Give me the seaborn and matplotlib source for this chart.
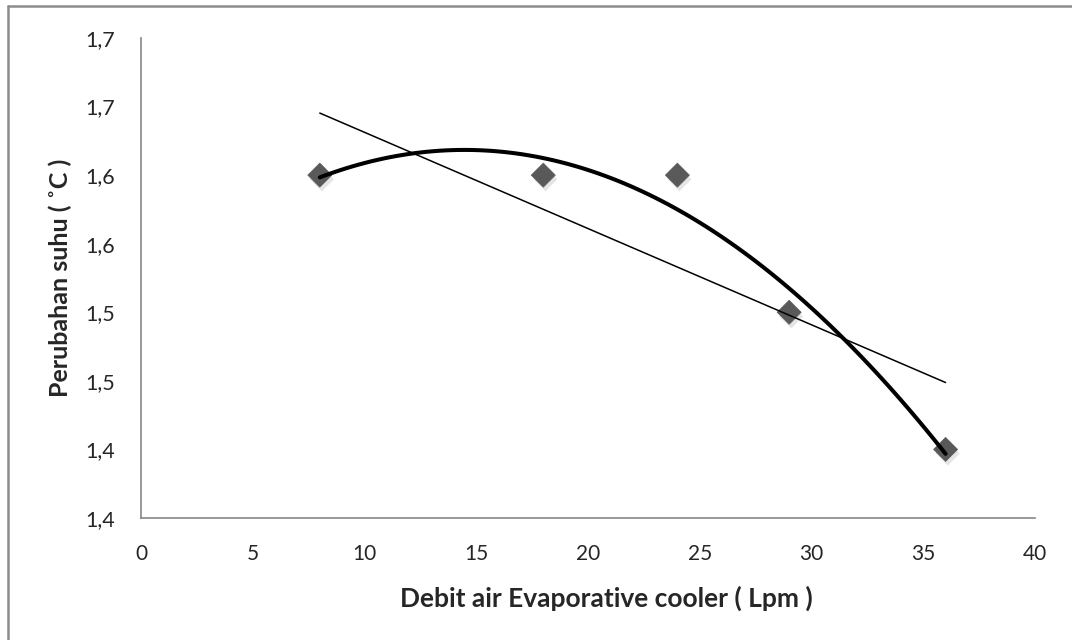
import matplotlib
matplotlib.use('Agg')
import matplotlib.pyplot as plt
import matplotlib.patheffects as pe
from matplotlib.lines import Line2D
import pandas as pd
import seaborn as sns

# data
debit = [8, 18, 24, 29, 36]
suhu = [1.6, 1.6, 1.6, 1.5, 1.4]
y_ticks = [1.35, 1.40, 1.45, 1.50, 1.55, 1.60, 1.65, 1.70]
y_tick_labels = ['1,4', '1,4', '1,5', '1,5', '1,6', '1,6', '1,7', '1,7']
x_ticks = [0, 5, 10, 15, 20, 25, 30, 35, 40]

df = pd.DataFrame({'debit': debit, 'suhu': suhu})

sns.set_style('white')
plt.rcParams['font.family'] = ['Lato', 'DejaVu Sans']

fig = plt.figure(figsize=(10.72, 6.4), dpi=100)
ax = fig.add_axes([141 / 1072, 1 - 518 / 640, (1035 - 141) / 1072, (518 - 38) / 640])

# trend lines fitted from the points (linear and 2nd order)
sns.regplot(data=df, x='debit', y='suhu', order=1, ci=None, scatter=False,
            color='black', line_kws={'linewidth': 1.1}, ax=ax)
sns.regplot(data=df, x='debit', y='suhu', order=2, ci=None, scatter=False,
            color='black', line_kws={'linewidth': 2.9}, ax=ax)

sns.scatterplot(data=df, x='debit', y='suhu', marker='D', s=150,
                color='#595959', edgecolor='#595959', linewidth=0.5,
                zorder=1, ax=ax)
for coll in ax.collections:
    coll.set_path_effects([pe.SimplePatchShadow(offset=(1.5, -3), alpha=0.2,
                                                shadow_rgbFace='#7f7f7f'),
                           pe.Normal()])

ax.set_xlim(0, 40)
ax.set_ylim(1.35, 1.70)
ax.set_xticks(x_ticks)
ax.set_yticks(y_ticks)
ax.set_yticklabels(y_tick_labels)
ax.tick_params(axis='x', length=0, pad=19, labelsize=15)
ax.tick_params(axis='y', length=0, pad=19, labelsize=15.5)

for side in ['top', 'right']:
    ax.spines[side].set_visible(False)
for side in ['left', 'bottom']:
    ax.spines[side].set_color('#868686')
    ax.spines[side].set_linewidth(1.2)

ax.set_xlabel('Debit air Evaporative cooler ( Lpm )', fontsize=19,
              fontweight='bold')
ax.xaxis.set_label_coords(0.52, -0.14)
ax.set_ylabel('Perubahan suhu ( ˚C )', fontsize=18, fontweight='bold',
              labelpad=9)

# outer chart frame (only top and left visible in the reference)
fig.add_artist(Line2D([8 / 1072, 1], [1 - 6 / 640, 1 - 6 / 640],
                      transform=fig.transFigure, color='#8c8c8c', linewidth=1.8))
fig.add_artist(Line2D([8 / 1072, 8 / 1072], [0, 1 - 6 / 640],
                      transform=fig.transFigure, color='#8c8c8c', linewidth=1.8))

fig.savefig('out.png', dpi=100)
